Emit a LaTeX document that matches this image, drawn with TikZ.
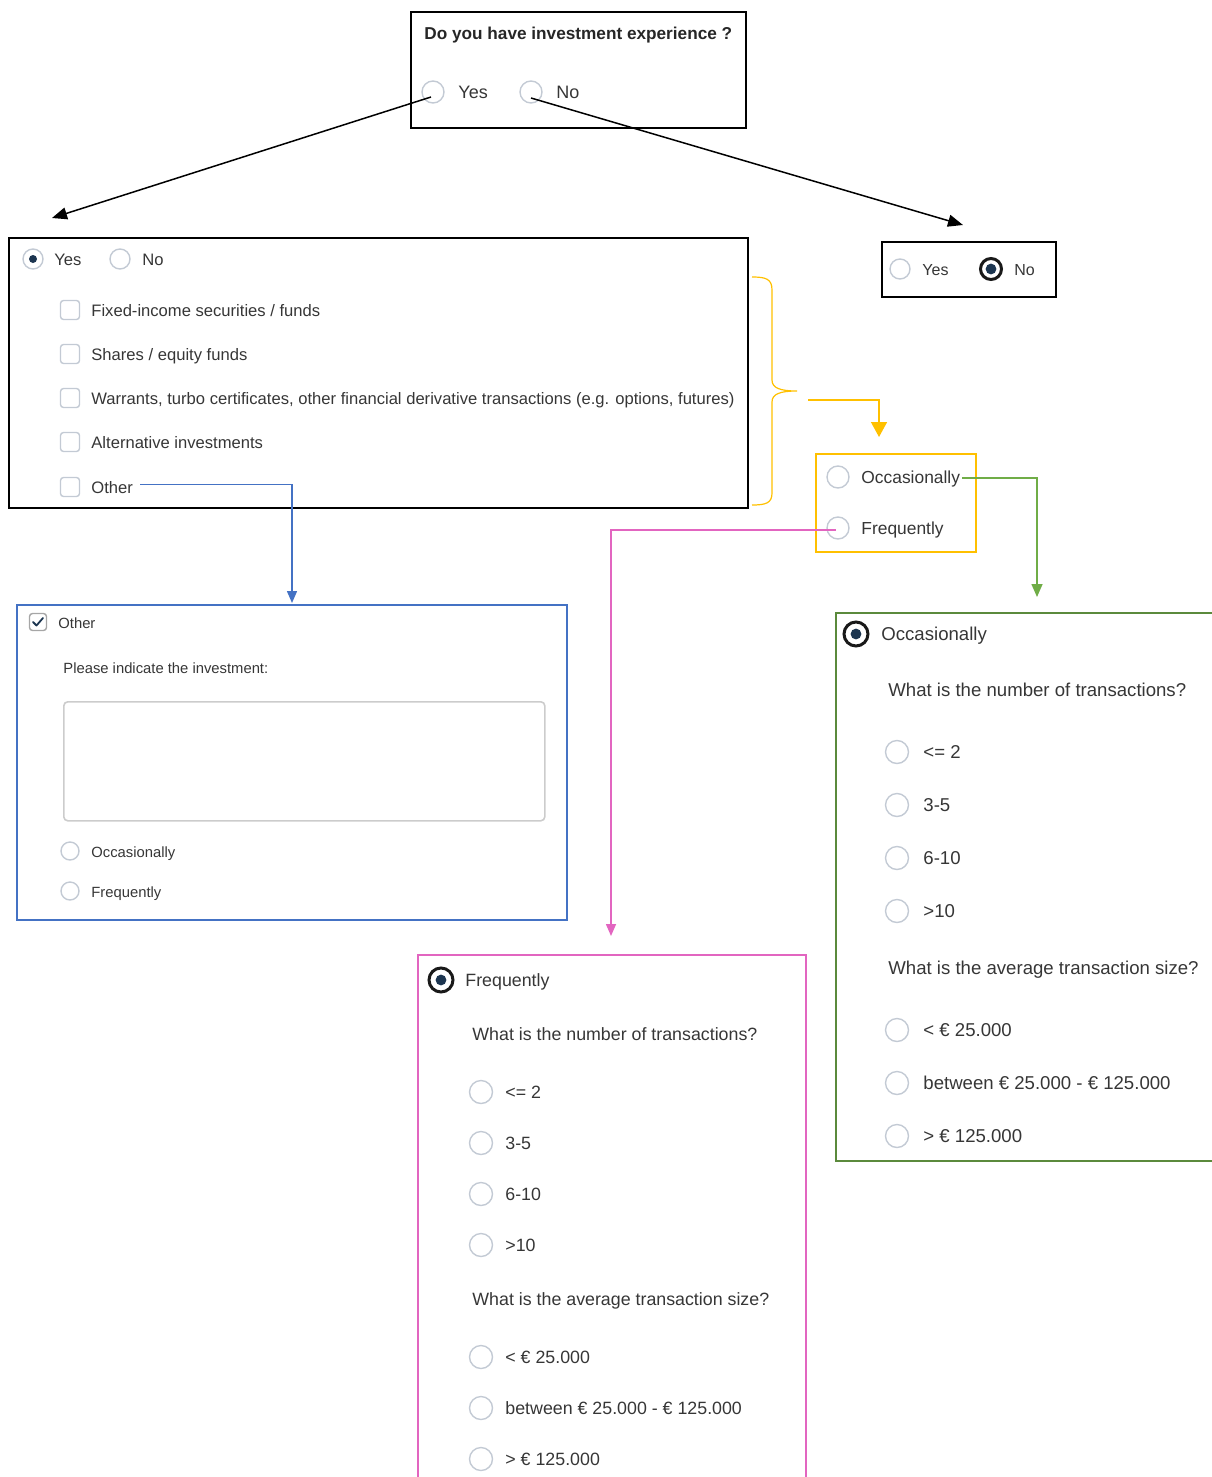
\documentclass[tikz,border=0pt]{standalone}
\usepackage{fontspec}
\setmainfont{Liberation Sans}
\usetikzlibrary{arrows.meta}
\definecolor{txt}{HTML}{363636}
\definecolor{rg}{HTML}{C3CAD4}
\definecolor{navy}{HTML}{1C3550}
\definecolor{ylw}{HTML}{FFC000}
\definecolor{grn}{HTML}{70AD47}
\definecolor{grnb}{HTML}{5B8A3C}
\definecolor{pnk}{HTML}{E265C0}
\definecolor{blu}{HTML}{4472C4}
\begin{document}
\begin{tikzpicture}[x=0.5pt,y=-0.5pt,
  box/.style={draw=#1,line width=1pt,anchor=north west,inner sep=0pt,outer sep=0pt},
  rad/.style={circle,draw=rg,line width=0.7pt,inner sep=0pt,minimum size=#1},
  radsoft/.style={circle,draw=rg,line width=0.7pt,inner sep=0pt,minimum size=10pt,
    path picture={\fill[navy] (path picture bounding box.center) circle (2pt);}},
  radsel/.style={circle,draw=black!90,line width=1.5pt,inner sep=0pt,minimum size=#1,
    path picture={\fill[navy] (path picture bounding box.center) circle (2.7pt);}},
  chk/.style={draw=rg,line width=0.7pt,rounded corners=1.5pt,inner sep=0pt,minimum size=#1},
  lbl/.style={anchor=mid west,inner sep=0pt,yshift=-0.5pt,text=txt,font=\fontsize{#1}{#1}\selectfont},
  conn/.style={draw=#1,line width=0.75pt},
]
\useasboundingbox (0,0) rectangle (1211,1477);

% ---------- top question ----------
\node[box=black,minimum width=167.5pt,minimum height=58pt] (q1) at (411,12) {};
\node[lbl=8.6,font=\bfseries\fontsize{8.6}{8.6}\selectfont,text=black!85] (q1t) at (424,33) {Do you have investment experience ?};
\node[rad=11pt] (q1y) at (433,92) {};
\node[lbl=9] (q1yt) at (458,92) {Yes};
\node[rad=11pt] (q1n) at (531,92) {};
\node[lbl=9] (q1nt) at (556,92) {No};

% ---------- left big box ----------
\node[box=black,minimum width=369.5pt,minimum height=135pt] (lb) at (9,238) {};
\node[radsoft] (lby) at (33,259) {};
\node[lbl=8.3] (lbyt) at (54,259) {Yes};
\node[rad=10pt] (lbn) at (120,259) {};
\node[lbl=8.3] (lbnt) at (142,259) {No};
\foreach \n/\y/\t in {1/310/{Fixed-income securities / funds},2/354/{Shares / equity funds},
  3/398/{Warrants, turbo certificates, other financial derivative transactions (e.g. options, futures)},
  4/442/{Alternative investments},5/487/{Other}}{
  \node[chk=9.5pt] (cb\n) at (70,\y) {};
  \node[lbl=8.3] (cbt\n) at (91,\y) {\t};
}

% ---------- right small box ----------
\node[box=black,minimum width=87pt,minimum height=27.5pt] (sb) at (882,242) {};
\node[rad=10pt] (sby) at (900,269) {};
\node[lbl=8] (sbyt) at (922,269) {Yes};
\node[radsel=10.5pt] (sbn) at (991,269) {};
\node[lbl=8] (sbnt) at (1014,269) {No};

% ---------- black arrows ----------
\coordinate (a1) at (52,218);
\coordinate (a2) at (963,225);
\draw[conn=black,-{Triangle[length=7.5pt,width=6pt]}] ([shift={(-2,5)}]q1y.center) -- (a1);
\draw[conn=black,-{Triangle[length=7.5pt,width=6pt]}] ([shift={(0,6)}]q1n.center) -- (a2);

% ---------- yellow brace and arrow ----------
\coordinate (br) at (797,391);
\draw[ylw,line width=0.6pt] (752,277) .. controls (766,277) and (772,279) .. (772,290)
  -- (772,380) .. controls (772,388) and (780,391) .. (br)
  .. controls (780,391) and (772,394) .. (772,402)
  -- (772,493) .. controls (772,503) and (766,505) .. (752,505);
\coordinate (y0) at (808,400);
\coordinate (y1) at (879,437);
\draw[conn=ylw,-{Triangle[length=7.5pt,width=8pt]}] (y0) -| (y1);

% ---------- yellow box ----------
\node[box=ylw,minimum width=80pt,minimum height=49pt] (yb) at (816,454) {};
\node[rad=11pt] (ybo) at (838,477) {};
\node[lbl=8.7] (ybot) at (861,477) {Occasionally};
\node[rad=11pt] (ybf) at (838,528) {};
\node[lbl=8.7] (ybft) at (861,528) {Frequently};

% ---------- green connector and box ----------
\coordinate (g1) at (1037,597);
\draw[conn=grn,-{Triangle[length=6.5pt,width=5.5pt]}] ([xshift=1pt,yshift=0.5pt]ybot.east) -| (g1);
\node[box=grnb,minimum width=189.5pt,minimum height=274pt] (gb) at (836,613) {};
\node[radsel=12pt] (gbs) at (856,634) {};
\node[lbl=9.3] (gbst) at (881,634) {Occasionally};
\node[lbl=9.3] (gq1) at (888,690) {What is the number of transactions?};
\foreach \n/\y/\t in {1/752/{<= 2},2/805/{3-5},3/858/{6-10},4/911/{>10}}{
  \node[rad=11.5pt] (gr\n) at (897,\y) {};
  \node[lbl=9.3] (grt\n) at (923,\y) {\t};
}
\node[lbl=9.3] (gq2) at (888,968) {What is the average transaction size?};
\foreach \n/\y/\t in {1/1030/{< € 25.000},2/1083/{between € 25.000 - € 125.000},3/1136/{> € 125.000}}{
  \node[rad=11.5pt] (gs\n) at (897,\y) {};
  \node[lbl=9.3] (gst\n) at (923,\y) {\t};
}

% ---------- pink connector and box ----------
\coordinate (p1) at (611,936);
\draw[conn=pnk,-{Triangle[length=6pt,width=5pt]}] ([shift={(-2,2)}]ybf.center) -| (p1);
\node[box=pnk,minimum width=194pt,minimum height=265pt] (pb) at (418,955) {};
\node[radsel=12pt] (pbs) at (441,980) {};
\node[lbl=8.9] (pbst) at (465,980) {Frequently};
\node[lbl=8.9] (pq1) at (472,1034) {What is the number of transactions?};
\foreach \n/\y/\t in {1/1092/{<= 2},2/1143/{3-5},3/1194/{6-10},4/1245/{>10}}{
  \node[rad=11.5pt] (pr\n) at (481,\y) {};
  \node[lbl=8.9] (prt\n) at (505,\y) {\t};
}
\node[lbl=8.9] (pq2) at (472,1299) {What is the average transaction size?};
\foreach \n/\y/\t in {1/1357/{< € 25.000},2/1408/{between € 25.000 - € 125.000},3/1459/{> € 125.000}}{
  \node[rad=11.5pt] (ps\n) at (481,\y) {};
  \node[lbl=8.9] (pst\n) at (505,\y) {\t};
}

% ---------- blue connector and box ----------
\coordinate (b1) at (292,603);
\draw[conn=blu,-{Triangle[length=6pt,width=5pt]}] ([shift={(7,-3)}]cbt5.east) -| (b1);
\node[box=blu,minimum width=275pt,minimum height=157.5pt] (bb) at (17,605) {};
\node[chk=8.5pt,draw=gray!70] (bbc) at (38,622) {};
\draw[navy,line width=0.9pt,line cap=round,line join=round]
  ([shift={(-5,0)}]bbc.center) -- ([shift={(-1.5,3.5)}]bbc.center) -- ([shift={(5,-4)}]bbc.center);
\node[lbl=7.4] (bbct) at (58,622) {Other};
\node[lbl=7.4] (bbq) at (63,667) {Please indicate the investment:};
\node[draw=gray!40,line width=0.8pt,rounded corners=2pt,anchor=north west,inner sep=0pt,
  minimum width=240.5pt,minimum height=59.5pt] (bin) at (63,701) {};
\node[rad=9pt] (bbo) at (70,851) {};
\node[lbl=7.4] (bbot) at (91,851) {Occasionally};
\node[rad=9pt] (bbf) at (70,891) {};
\node[lbl=7.4] (bbft) at (91,891) {Frequently};
\end{tikzpicture}
\end{document}
